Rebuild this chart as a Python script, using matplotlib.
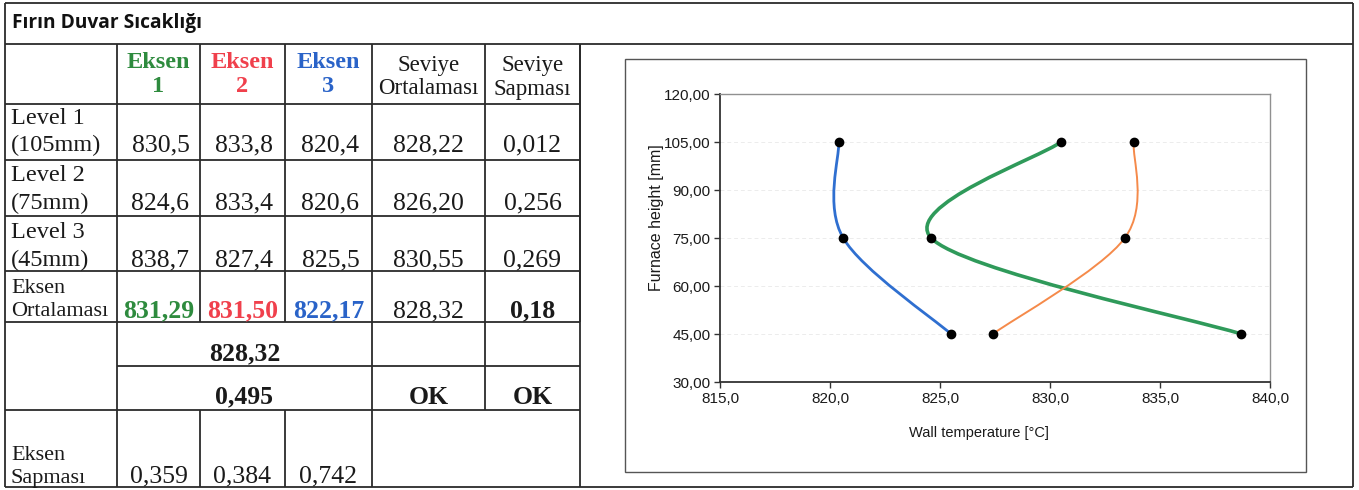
"""Fırın duvar sıcaklığı: ölçüm tablosu + yükseklik/sıcaklık grafiği."""

import matplotlib

matplotlib.use("Agg")
import matplotlib.pyplot as plt
from matplotlib.path import Path
from matplotlib.patches import PathPatch, Rectangle

# --- tablo verisi ---
level_labels = [("Level 1", "(105mm)"), ("Level 2", "(75mm)"), ("Level 3", "(45mm)")]
heights = [105, 75, 45]
eksen1 = [830.5, 824.6, 838.7]
eksen2 = [833.8, 833.4, 827.4]
eksen3 = [820.4, 820.6, 825.5]
seviye_ortalamasi = ["828,22", "826,20", "830,55"]
seviye_sapmasi = ["0,012", "0,256", "0,269"]
eksen_ortalamasi = ["831,29", "831,50", "822,17"]
genel_ortalama = "828,32"
ortalama_sapma = "0,18"
toplam_ortalama = "828,32"
toplam_sapma = "0,495"
durum = ["OK", "OK"]
eksen_sapmasi = ["0,359", "0,384", "0,742"]

x_ticks = [815, 820, 825, 830, 835, 840]
y_ticks = [30, 45, 60, 75, 90, 105, 120]

GREEN = "#2e8b3e"
RED = "#f0404c"
BLUE = "#2a63c8"
LINE_GREEN = "#2f9a5a"
LINE_ORANGE = "#f58a4a"
LINE_BLUE = "#2f6fd0"
EDGE = "#2b2b2b"

W, H = 1359, 490
SERIF = ["Liberation Serif", "DejaVu Serif"]
SANS = ["Liberation Sans", "DejaVu Sans"]


def tr(v, nd=1):
    return f"{v:.{nd}f}".replace(".", ",")


def smooth_path(xs, ys):
    """Excel-like smoothed line: Catmull-Rom segments as cubic Beziers."""
    pts = list(zip(xs, ys))
    n = len(pts)
    verts = [pts[0]]
    codes = [Path.MOVETO]
    for i in range(n - 1):
        p0 = pts[max(i - 1, 0)]
        p1 = pts[i]
        p2 = pts[i + 1]
        p3 = pts[min(i + 2, n - 1)]
        c1 = (p1[0] + (p2[0] - p0[0]) / 6, p1[1] + (p2[1] - p0[1]) / 6)
        c2 = (p2[0] - (p3[0] - p1[0]) / 6, p2[1] - (p3[1] - p1[1]) / 6)
        verts += [c1, c2, p2]
        codes += [Path.CURVE4] * 3
    return Path(verts, codes)


fig = plt.figure(figsize=(W / 100, H / 100), dpi=100)
bg = fig.add_axes([0, 0, 1, 1])
bg.set_xlim(0, W)
bg.set_ylim(H, 0)
bg.axis("off")


def hline(y, x0, x1):
    bg.plot([x0, x1], [y, y], color=EDGE, lw=1.3, solid_capstyle="butt")


def vline(x, y0, y1):
    bg.plot([x, x], [y0, y1], color=EDGE, lw=1.3, solid_capstyle="butt")


# outer frame + title row
L, R, T, B = 5, 1353, 3, 487
for y in (T, 44, B):
    hline(y, L, R)
vline(L, T, B)
vline(R, T, B)
bg.text(12, 23, "Fırın Duvar Sıcaklığı", fontsize=13.8, fontweight="bold",
        family=["Open Sans", "DejaVu Sans"], va="center", ha="left",
        color="#111111")

# table grid
cols = [5, 117, 200, 285, 372, 485, 580]
rows = [44, 104, 160, 216, 271, 322, 366, 410, 487]
centers = [(cols[i] + cols[i + 1]) / 2 for i in range(len(cols) - 1)]
for y in rows[1:6]:
    hline(y, cols[0], cols[-1])
hline(rows[6], cols[1], cols[-1])
hline(rows[7], cols[0], cols[-1])
for x in cols[1:]:
    vline(x, rows[0], rows[5])
for x in (cols[1], cols[4], cols[5]):
    vline(x, rows[5], rows[7])
for x in (cols[1], cols[2], cols[3], cols[4]):
    vline(x, rows[7], rows[8])
vline(cols[-1], rows[0], rows[8])

FS = 17.5
VS = 18.5


def cell(x, y, s, color="#1a1a1a", bold=False, size=VS, ha="center"):
    bg.text(x, y, s, fontsize=size, family=SERIF, ha=ha, va="center",
            color=color, fontweight="bold" if bold else "normal")


# header
for i, c in enumerate([GREEN, RED, BLUE]):
    cell(centers[i + 1], 62, "Eksen", c, bold=True, size=17.5)
    cell(centers[i + 1], 86, str(i + 1), c, bold=True, size=17.5)
for i, word in ((4, "Ortalaması"), (5, "Sapması")):
    cell(centers[i], 66, "Seviye", size=16.5)
    cell(centers[i], 89, word, size=16.5)

# level rows
row_y = [(118, 145), (175, 203), (232, 260)]
for k, ((l1, l2), (ya, yb)) in enumerate(zip(level_labels, row_y)):
    cell(11, ya, l1, size=FS, ha="left")
    cell(11, yb, l2, size=FS, ha="left")
    vals = [tr(eksen1[k]), tr(eksen2[k]), tr(eksen3[k]),
            seviye_ortalamasi[k], seviye_sapmasi[k]]
    for j, v in enumerate(vals):
        cell(centers[j + 1] + (2 if j < 3 else 0), yb, v)

# axis averages
cell(11, 288, "Eksen", size=16, ha="left")
cell(11, 311, "Ortalaması", size=16, ha="left")
for j, (v, c) in enumerate(zip(eksen_ortalamasi, [GREEN, RED, BLUE])):
    cell(centers[j + 1], 311, v, c, bold=True)
cell(centers[4], 311, genel_ortalama)
cell(centers[5], 311, ortalama_sapma, bold=True)

# merged summary rows
mid = (cols[1] + cols[4]) / 2
cell(mid, 354, toplam_ortalama, bold=True)
cell(mid, 397, toplam_sapma, bold=True)
cell(centers[4], 397, durum[0], bold=True)
cell(centers[5], 397, durum[1], bold=True)

# axis deviations
cell(11, 455, "Eksen", size=16, ha="left")
cell(11, 478, "Sapması", size=16, ha="left")
for j, v in enumerate(eksen_sapmasi):
    cell(centers[j + 1], 476, v)

# chart frame
bg.add_patch(Rectangle((625, 59), 1306 - 625, 472 - 59, fill=False,
                       edgecolor="#555555", lw=1.0))

# chart
ax = fig.add_axes([720 / W, 1 - 382 / H, 550 / W, 288 / H])
ax.set_xlim(815, 840)
ax.set_ylim(30, 120)
ax.set_xticks(x_ticks)
ax.set_yticks(y_ticks)
ax.set_xticklabels([tr(v, 1) for v in x_ticks], family=SANS, fontsize=11)
ax.set_yticklabels([tr(v, 2) for v in y_ticks], family=SANS, fontsize=11)
ax.tick_params(axis="both", direction="out", length=4, width=1,
               color="#333333", labelcolor="#1a1a1a", pad=3)
for yv in y_ticks[1:-1]:
    ax.axhline(yv, color="#ececec", lw=0.7, ls=(0, (4, 3)), zorder=0)
for side in ("left", "bottom"):
    ax.spines[side].set_color("#333333")
    ax.spines[side].set_linewidth(1.3)
for side in ("top", "right"):
    ax.spines[side].set_color("#909090")
    ax.spines[side].set_linewidth(1.0)

for vals, color, lw in ((eksen3, LINE_BLUE, 2.0),
                        (eksen1, LINE_GREEN, 2.6),
                        (eksen2, LINE_ORANGE, 1.4)):
    ax.add_patch(PathPatch(smooth_path(vals, heights), fill=False,
                           edgecolor=color, lw=lw, zorder=2))
    ax.plot(vals, heights, ls="none", marker="o", ms=6, color="black", zorder=3)

fig.text(979 / W, 1 - 433 / H, "Wall temperature [°C]", family=SANS,
         fontsize=10.5, ha="center", va="center", color="#1a1a1a")
fig.text(657 / W, 1 - 218 / H, "Furnace height [mm]", family=SANS,
         fontsize=11.5, ha="center", va="center", rotation=90, color="#1a1a1a")

fig.savefig("out.png", dpi=100)
